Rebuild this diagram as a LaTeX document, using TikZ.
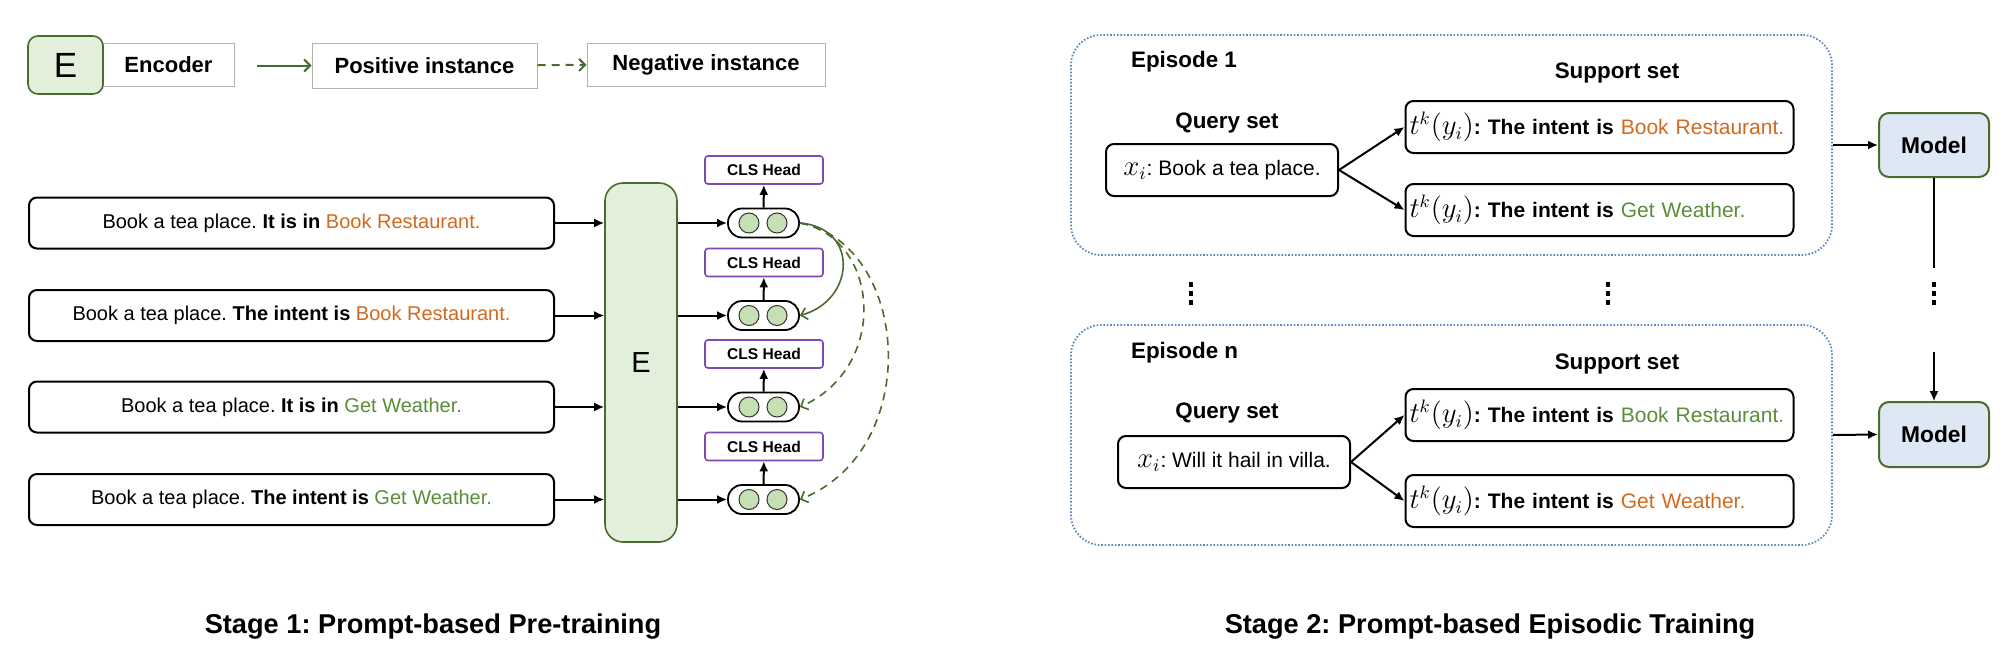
\documentclass[tikz,border=0pt]{standalone}
\usepackage{fontspec}
\setmainfont{Liberation Sans}
\usetikzlibrary{arrows.meta}
\definecolor{dgrn}{HTML}{4A6B2F}
\definecolor{efill}{HTML}{E2EFDA}
\definecolor{cfill}{HTML}{C5E0B3}
\definecolor{orng}{HTML}{D2691E}
\definecolor{grn}{HTML}{5B8C3A}
\definecolor{purp}{HTML}{7E48B5}
\definecolor{eblue}{HTML}{5E88BE}
\definecolor{mfill}{HTML}{DEE8F5}
\newcommand{\mathbig}[1]{{\fontsize{13.5}{14}\selectfont$#1$}}
\frenchspacing

\begin{document}
\begin{tikzpicture}[x=0.5pt,y=-0.5pt,
    sent/.style={draw,line width=1pt,rounded corners=4pt,minimum width=262.5pt,minimum height=25.5pt,inner sep=0pt,font=\fontsize{10}{12}\selectfont},
    pill/.style={draw,line width=0.9pt,rounded corners=7pt,minimum width=35.5pt,minimum height=14.5pt,inner sep=0pt},
    bead/.style={circle,draw=black!80,line width=0.5pt,fill=cfill,minimum size=10pt,inner sep=0pt},
    cls/.style={draw=purp,line width=0.8pt,rounded corners=1.5pt,minimum width=59pt,minimum height=14pt,inner sep=0pt,font=\bfseries\fontsize{7.8}{9}\selectfont},
    ebox/.style={draw=dgrn,fill=efill,line width=0.8pt},
    lbox/.style={draw=black!30,line width=0.5pt,inner sep=0pt,font=\bfseries\fontsize{11}{13}\selectfont},
    arr/.style={-{Latex[length=5pt,width=4.5pt]},line width=1pt},
    posc/.style={-{Straight Barb[length=3pt,width=6pt]},dgrn,line width=0.8pt},
    negc/.style={posc,dash pattern=on 4pt off 3pt},
    episode/.style={draw=eblue,line width=0.9pt,dash pattern=on 0.8pt off 0.9pt,rounded corners=15pt},
    qbox/.style={draw,line width=1pt,rounded corners=4pt,minimum width=116pt,minimum height=26pt,inner sep=0pt,font=\fontsize{10.5}{12}\selectfont},
    sbox/.style={draw,line width=1pt,rounded corners=4pt,text width=190pt,align=left,inner sep=2pt,minimum height=26pt,font=\fontsize{10.5}{12}\selectfont},
    model/.style={draw=dgrn,fill=mfill,line width=1pt,rounded corners=5pt,minimum width=55pt,minimum height=32pt,font=\bfseries\fontsize{11.4}{13}\selectfont},
    lbl/.style={font=\bfseries\fontsize{11.2}{13}\selectfont},
    title/.style={font=\bfseries\fontsize{13.6}{16}\selectfont}]
\useasboundingbox (0,0) rectangle (2004,648);

% legend
\node[lbox,minimum width=65.5pt,minimum height=21.5pt] (legenc) at (168.5,64.5) {Encoder};
\node[ebox,rounded corners=5pt,minimum width=37.5pt,minimum height=29pt,font=\fontsize{17.5}{20}\selectfont] (legE) at (65.5,65) {E};
\node[lbox,minimum width=112.5pt,minimum height=22.5pt] (legpos) at (424.5,65.5) {Positive instance};
\node[lbox,minimum width=119pt,minimum height=21.5pt] (legneg) at (706,64.5) {Negative instance};
\coordinate (legstart) at (257,65.5);
\draw[posc,line width=1pt] (legstart) -- (legpos);
\draw[negc,line width=1pt] (legpos) -- (legneg);

% stage 1
\node[ebox,rounded corners=9pt,minimum width=36pt,minimum height=179.5pt,font=\fontsize{14.5}{16}\selectfont] (enc) at (641,362.5) {E};
\foreach \i/\yy/\lead/\lab/\tc in {1/223/It is in/Book Restaurant./orng,
                                   2/315.5/The intent is/Book Restaurant./orng,
                                   3/407/It is in/Get Weather./grn,
                                   4/499.5/The intent is/Get Weather./grn}{
  \node[sent] (s\i) at (291.5,\yy) {Book a tea place. \textbf{\lead} \textcolor{\tc}{\lab}};
  \node[pill] (o\i) at (763.5,\yy) {};
  \node[bead] (o\i a) at (749,\yy) {};
  \node[bead] (o\i b) at (777,\yy) {};
  \node[cls] (c\i) at (764,\yy-53) {CLS Head};
  \draw[arr] (s\i.east) -- (s\i.east -| enc.west);
  \draw[arr] (o\i.west -| enc.east) -- (o\i.west);
  \draw[arr] (o\i) -- (c\i);
}
\draw[posc] (o1.east) .. controls +(60,5) and +(55,-15) .. (o2.east);
\draw[negc] (o1.east) .. controls +(80,15) and +(90,-40) .. (o3.east);
\draw[negc] (o1.east) .. controls +(110,20) and +(125,-50) .. (o4.east);

% stage 2
\node[episode,minimum width=380.5pt,minimum height=110pt] (ep1) at (1451.5,145) {};
\node[episode,minimum width=380.5pt,minimum height=110pt] (epn) at (1451.5,435) {};
\node[lbl,anchor=west] (ep1lbl) at (1124,62) {Episode 1};
\node[lbl,anchor=west] (epnlbl) at (1124,353) {Episode n};
\node[lbl] (sup1) at (1617,73) {Support set};
\node[lbl] (supn) at (1617,364) {Support set};
\node[lbl] (qry1) at (1227,123) {Query set};
\node[lbl] (qryn) at (1227,413) {Query set};

\node[qbox] (q1) at (1222,170) {\mathbig{x_i}: Book a tea place.};
\node[qbox] (qn) at (1234,462) {\mathbig{x_i}: Will it hail in villa.};
\node[sbox] (t11) at (1599.5,127) {\mathbig{t^k(y_i)}\textbf{: The intent is} \textcolor{orng}{Book Restaurant.}};
\node[sbox] (t12) at (1599.5,210) {\mathbig{t^k(y_i)}\textbf{: The intent is} \textcolor{grn}{Get Weather.}};
\node[sbox] (tn1) at (1599.5,415) {\mathbig{t^k(y_i)}\textbf{: The intent is} \textcolor{grn}{Book Restaurant}\textcolor{orng}{.}};
\node[sbox] (tn2) at (1599.5,501) {\mathbig{t^k(y_i)}\textbf{: The intent is} \textcolor{orng}{Get Weather.}};
\draw[arr] (q1.east) -- (t11.west);
\draw[arr] (q1.east) -- (t12.west);
\draw[arr] (qn.east) -- (tn1.west);
\draw[arr] (qn.east) -- (tn2.west);

\node[model] (m1) at (1934,145) {Model};
\node[model,minimum height=32.5pt] (mn) at (1934,434.5) {Model};
\draw[arr] (ep1.east) -- (m1.west);
\draw[arr] (epn.east) -- (mn.west);
\coordinate (mgap1) at (1934,268);
\coordinate (mgap2) at (1934,352);
\draw[line width=0.7pt] (m1) -- (mgap1);
\draw[-{Latex[length=5pt,width=4.5pt]},line width=0.7pt] (mgap2) -- (mn);

% vertical dots
\foreach \dx in {1191,1608,1934}
  \foreach \dy in {284,293,302}
    \fill (\dx-2.2,\dy-2.5) rectangle (\dx+2.2,\dy+2.5);

% titles
\node[title] (tit1) at (433,627) {Stage 1: Prompt-based Pre-training};
\node[title] (tit2) at (1490,627) {Stage 2: Prompt-based Episodic Training};
\end{tikzpicture}
\end{document}
